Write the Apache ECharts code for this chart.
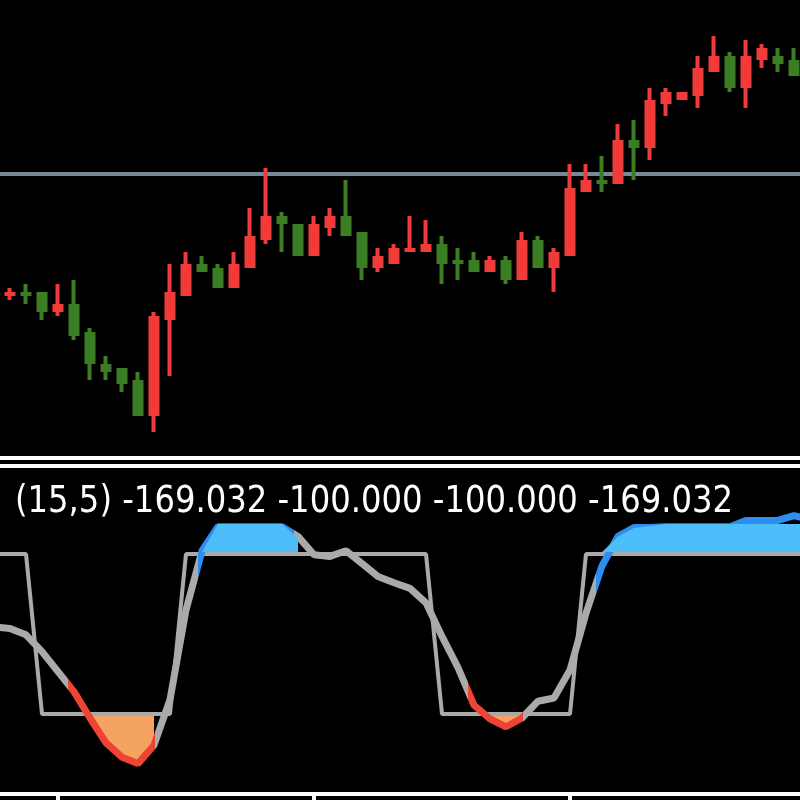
<!DOCTYPE html>
<html><head><meta charset="utf-8">
<script src="https://cdn.jsdelivr.net/npm/echarts@6/dist/echarts.min.js"></script>
<style>html,body{margin:0;padding:0;background:#000}#c{width:800px;height:800px}</style>
</head><body><div id="c"></div>
<script>
// ---- price candles (bar 0 .. 49) ----
const opens = [1.1164,1.1164,1.1164,1.1148,1.1152,1.1124,1.1092,1.1088,1.1076,1.1044,
  1.1140,1.1164,1.1192,1.1188,1.1172,1.1192,1.1220,1.1240,1.1232,1.1204,
  1.1232,1.1240,1.1224,1.1192,1.1196,1.1208,1.1208,1.1212,1.1196,1.1196,
  1.1188,1.1196,1.1180,1.1216,1.1192,1.1204,1.1268,1.1276,1.1276,1.1316,
  1.1312,1.1356,1.1360,1.1364,1.1388,1.1400,1.1372,1.1400,1.1400,1.1396];
const closes = [1.11641,1.11639,1.1148,1.1152,1.1124,1.1096,1.1088,1.1076,1.1044,1.1140,
  1.1164,1.1192,1.1188,1.1172,1.1192,1.1220,1.1240,1.1236,1.1204,1.1232,
  1.1240,1.1224,1.1192,1.1200,1.1208,1.12081,1.1212,1.1196,1.11959,1.1188,
  1.1196,1.1180,1.1216,1.1192,1.1204,1.1268,1.1276,1.12759,1.1316,1.1312,
  1.1356,1.1364,1.1364,1.1388,1.1400,1.1372,1.1400,1.1408,1.1396,1.1384];
const lows = [1.1158,1.1154,1.1138,1.1142,1.1118,1.1078,1.1078,1.1066,1.1044,1.1026,
  1.1082,1.1164,1.1188,1.1172,1.1172,1.1192,1.1214,1.1206,1.1204,1.1204,
  1.1222,1.1224,1.1178,1.1186,1.1196,1.1208,1.1208,1.1174,1.1178,1.1188,
  1.1188,1.1174,1.1180,1.1192,1.1166,1.1204,1.1268,1.1266,1.1276,1.1278,
  1.1298,1.1342,1.1360,1.1350,1.1388,1.1366,1.1350,1.1390,1.1386,1.1384];
const highs = [1.1170,1.1174,1.1164,1.1174,1.1178,1.1130,1.1102,1.1088,1.1086,1.1146,
  1.1194,1.1206,1.1202,1.1194,1.1206,1.1250,1.1290,1.1246,1.1232,1.1242,
  1.1250,1.1278,1.1224,1.1210,1.1214,1.1242,1.1238,1.1222,1.1210,1.1206,
  1.1202,1.1202,1.1226,1.1222,1.1210,1.1294,1.1294,1.1302,1.1334,1.1338,
  1.1370,1.1370,1.1364,1.1402,1.1422,1.1406,1.1418,1.1414,1.1410,1.1410];
const levelPrice = 1.1284;

// ---- indicator (bar -1 .. 50) ----
const indFirstBar = -1;
const cci = [9,
  7,-1,-22,-47,-72,-105,-136,-154,-162,-139,
  -82,30,104,134,134,134,134,134,122,99,
  97,104,88,72,64,57,39,-3,-42,-89,
  -106,-116,-105,-84,-80,-45,26,85,122,133,
  133,134,134,134,134,134,142,142,142,148,143];
const stepLine = [100,
  100,100,-100,-100,-100,-100,-100,-100,-100,-100,
  -100,100,100,100,100,100,100,100,100,100,
  100,100,100,100,100,100,100,-100,-100,-100,
  -100,-100,-100,-100,-100,-100,100,100,100,100,
  100,100,100,100,100,100,100,100,100,100,100];
const upperFill = [null,
  null,null,null,null,null,null,null,null,null,null,
  null,null,102.5,137.5,137.5,137.5,137.5,137.5,120,null,
  null,null,null,null,null,null,null,null,null,null,
  null,null,null,null,null,null,null,102.5,122,132.5,
  135,137.5,137.5,137.5,137.5,137.5,137.5,137.5,137.5,137.5,137.5];
const lowerFill = [null,
  null,null,null,null,null,-105,-136,-154,-162,-139,
  null,null,null,null,null,null,null,null,null,null,
  null,null,null,null,null,null,null,null,null,null,
  -106,-116,-105,null,null,null,null,null,null,null,
  null,null,null,null,null,null,null,null,null,null,null];
const redRanges = [[3.6, 9.05], [28.6, 32.05]];
const blueRanges = [[11.75, 17.75], [36.6, 51]];
const tickBars = [3, 19, 35];
const params = [15, 5];
const shownValues = [-169.032, -100.000, -100.000, -169.032];

const RED = '#EF3B39', GREEN = '#3A7D22', LINE_RED = '#EE4433', BLUE = '#2C8EF0',
      LIGHTBLUE = '#4DBEFA', ORANGE = '#F4A460', GREY = '#AAAAAA', LEVEL = '#778899';

const candleData = opens.map((o, i) => [i, o, closes[i], lows[i], highs[i]]);
const toXY = arr => arr.map((v, i) => [i + indFirstBar, v == null ? '-' : v]);

const pieces = [];
redRanges.forEach(r => pieces.push({gte: r[0], lt: r[1], color: LINE_RED}));
blueRanges.forEach(r => pieces.push({gte: r[0], lt: r[1], color: BLUE}));
pieces.sort((a, b) => a.gte - b.gte);

const label = '(' + params.join(',') + ') ' + shownValues.map(v => v.toFixed(3)).join(' ');
const FONT = '37px "DejaVu Sans"';
const mctx = document.createElement('canvas').getContext('2d');
mctx.font = FONT;
const sx = 718 / mctx.measureText(label).width;

const chart = echarts.init(document.getElementById('c'), null, {renderer: 'canvas'});
chart.setOption({
  backgroundColor: '#000',
  animation: false,
  grid: [
    {left: 0, width: 800, top: 0, height: 458},
    {left: 0, width: 800, top: 474, height: 320}
  ],
  xAxis: [
    {gridIndex: 0, type: 'value', min: -0.625, max: 49.375, show: false},
    {gridIndex: 1, type: 'value', min: -0.625, max: 49.375,
     axisLine: {show: true, onZero: false, lineStyle: {color: '#fff', width: 4}},
     axisTick: {show: true, customValues: tickBars, length: 6, lineStyle: {color: '#fff', width: 4}},
     axisLabel: {show: false}, splitLine: {show: false}}
  ],
  yAxis: [
    {gridIndex: 0, type: 'value', min: 1.1000, max: 1.1458, show: false, splitLine: {show: false}},
    {gridIndex: 1, type: 'value', min: -200, max: 200, show: false, splitLine: {show: false}}
  ],
  visualMap: {
    show: false, type: 'piecewise', seriesIndex: 3, dimension: 0,
    pieces: pieces, outOfRange: {color: GREY}
  },
  graphic: [
    {type: 'rect', shape: {x: 0, y: 456, width: 800, height: 4}, style: {fill: '#fff'}, silent: true},
    {type: 'rect', shape: {x: 0, y: 464, width: 800, height: 4}, style: {fill: '#fff'}, silent: true},
    {type: 'text', x: 15, y: 502, scaleX: sx, silent: true,
     style: {text: label, font: FONT, fill: '#fff', align: 'left', verticalAlign: 'middle'}}
  ],
  series: [
    {type: 'candlestick', xAxisIndex: 0, yAxisIndex: 0, z: 2, barWidth: 8, data: candleData,
     itemStyle: {color: RED, color0: GREEN, borderColor: RED, borderColor0: GREEN, borderWidth: 4},
     markLine: {silent: true, z: 1, precision: 5, symbol: ['none', 'none'], label: {show: false},
       lineStyle: {color: LEVEL, width: 4, type: 'solid'}, data: [{yAxis: levelPrice}]}},
    {type: 'line', xAxisIndex: 1, yAxisIndex: 1, data: toXY(lowerFill), symbol: 'none', z: 2,
     lineStyle: {width: 0, opacity: 0}, areaStyle: {color: ORANGE, opacity: 1, origin: -100}},
    {type: 'line', xAxisIndex: 1, yAxisIndex: 1, data: toXY(stepLine), symbol: 'none', z: 3,
     lineStyle: {color: GREY, width: 4}},
    {type: 'line', xAxisIndex: 1, yAxisIndex: 1, data: toXY(cci), symbol: 'none', z: 4,
     lineStyle: {width: 7}},
    {type: 'line', xAxisIndex: 1, yAxisIndex: 1, data: toXY(upperFill), symbol: 'none', z: 5,
     lineStyle: {width: 0, opacity: 0}, areaStyle: {color: LIGHTBLUE, opacity: 1, origin: 102.5}}
  ]
});
</script></body></html>
